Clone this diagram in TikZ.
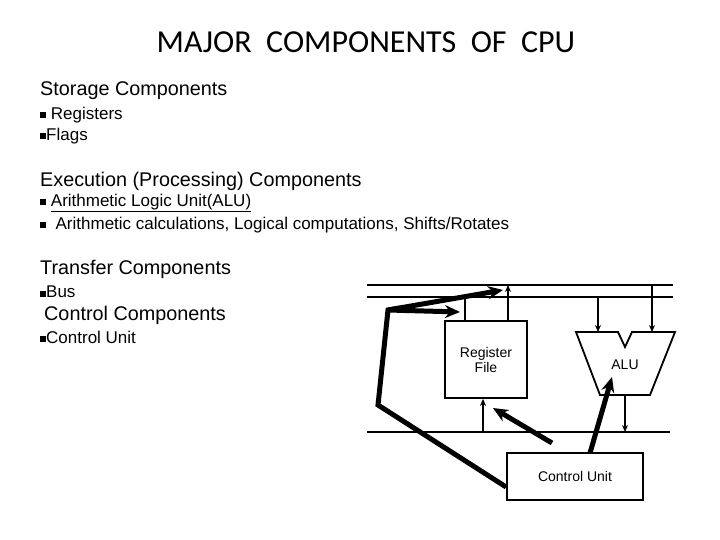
\documentclass[tikz,border=0pt]{standalone}
\usepackage{fontspec}
\setmainfont{Liberation Sans}
\newfontfamily\titlefont{Carlito}
\usetikzlibrary{arrows.meta}
\newcommand{\bsq}{\rule[1pt]{6pt}{6pt}}
\tikzset{
  head/.style={font=\fontsize{19.8}{22}\selectfont, anchor=west, inner sep=0pt},
  item/.style={font=\fontsize{17}{19}\selectfont, anchor=west, inner sep=0pt},
  box/.style={draw, line width=1.8pt},
  bus/.style={line width=1.8pt},
  tap/.style={line width=1.8pt, -{Stealth[length=7pt,width=6pt]}},
  ctl/.style={line width=5pt, -{Stealth[length=15pt,width=13pt]}},
}
\begin{document}
\begin{tikzpicture}[x=1pt,y=-1pt]
\useasboundingbox (0,0) rectangle (720,540);
\node[font=\titlefont\fontsize{32}{36}\selectfont] (title) at (366,42) {MAJOR\ \ COMPONENTS\ \ OF\ \ CPU};

\node[head] (st) at (40,91) {Storage Components};
\node[item] (st1) at (40,115) {\bsq\ Registers};
\node[item] (st2) at (40,136) {\bsq Flags};
\node[head] (ex) at (40,181) {Execution (Processing) Components};
\node[item] (ex1) at (40,203) {\bsq\ \underline{Arithmetic Logic Unit(ALU)}};
\node[item] (ex2) at (40,225) {\bsq\ \ Arithmetic calculations, Logical computations, Shifts/Rotates};
\node[head] (tr) at (40,269) {Transfer Components};
\node[item] (tr1) at (40,292) {\bsq Bus};
\node[head] (co) at (44,315) {Control Components};
\node[item] (co1) at (40,337) {\bsq Control Unit};

% buses
\coordinate (b1w) at (367,285); \coordinate (b1e) at (673,285);
\coordinate (b2w) at (367,297); \coordinate (b2e) at (673,297);
\coordinate (b3w) at (367,432); \coordinate (b3e) at (670,432);
\draw[bus] (b1w) -- (b1e);
\draw[bus] (b2w) -- (b2e);
\draw[bus] (b3w) -- (b3e);

% register file, control unit
\node[box, minimum width=82pt, minimum height=77pt, align=center,
      font=\fontsize{14}{15}\selectfont] (rf) at (486,359.5) {Register\\File};
\node[box, minimum width=136pt, minimum height=47pt,
      font=\fontsize{14}{15}\selectfont] (cu) at (575,476.5) {Control Unit};

% alu
\draw[box, line join=miter] (576,332) -- (618,332) -- (625,347) -- (632,332) -- (675,332)
  -- (650,395) -- (600,395) -- cycle;
\node[font=\fontsize{14}{15}\selectfont] (alu) at (625,365) {ALU};

% taps
\draw[bus] (465,321) -- (465,297);
\draw[tap] (508,321) -- (508,285);
\draw[tap] (598,297) -- (598,332);
\draw[tap] (652,285) -- (652,332);
\draw[tap] (625,395) -- (625,432);
\draw[tap] (483,432) -- (rf.south -| 483,0);

% control lines
\coordinate (k1) at (378,405);
\coordinate (k2) at (388,310);
\draw[line width=5pt, line join=miter] (cu.west |- 0,487) -- (k1) -- (k2) -- (400,308);
\draw[ctl] (k2) -- (503,290);
\draw[ctl] (k2) -- (460,312);
\draw[ctl] (552,443) -- (493,408);
\draw[ctl] (590,453) -- (612,377);
\end{tikzpicture}
\end{document}
